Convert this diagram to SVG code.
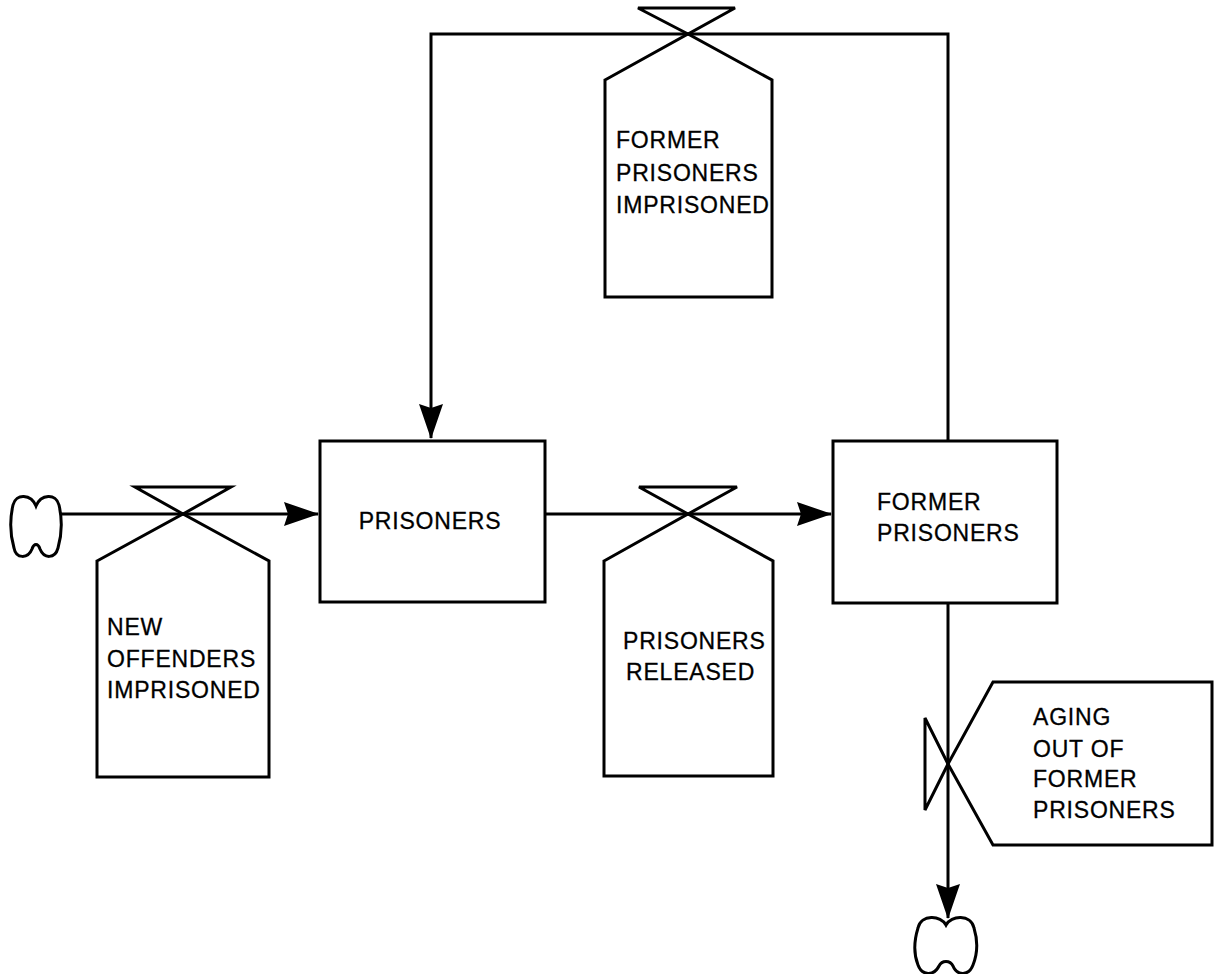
<svg xmlns="http://www.w3.org/2000/svg" width="1215" height="974" viewBox="0 0 1215 974">
  <style>
    .ln { fill: none; stroke: #000; stroke-width: 3; stroke-linejoin: miter; }
    .shape { fill: #fff; stroke: #000; stroke-width: 3; stroke-linejoin: miter; }
    .lbl { font-family: "Liberation Sans", Arial, sans-serif; font-size: 23px; fill: #000; stroke: #000; stroke-width: 0.3; letter-spacing: 0.8px; }
    .mid { text-anchor: middle; }
  </style>
  <defs>
    <marker id="arrow" markerUnits="userSpaceOnUse" markerWidth="40" markerHeight="30" viewBox="-38 -15 40 30" refX="0" refY="0" orient="auto">
      <path d="M1,0 L-34,-12 L-30,0 L-34,12 Z" fill="#000"/>
    </marker>
  </defs>
  <rect width="1215" height="974" fill="#fff"/>

  <!-- flow pipes -->
  <g id="connectors">
    <path class="ln" d="M60,514 L318,514" marker-end="url(#arrow)"/>
    <path class="ln" d="M545,514 L831,514" marker-end="url(#arrow)"/>
    <path class="ln" d="M948,441 L948,34 L431,34 L431,438" marker-end="url(#arrow)"/>
    <path class="ln" d="M948,603 L948,918" marker-end="url(#arrow)"/>
  </g>

  <!-- source cloud -->
  <g id="source">
    <path class="ln" d="M36,506 C41,494 56,493 59,505 C62,518 62,534 58,548 C55,559 44,559 40,549 C38,543 34,543 32,549 C28,559 16,559 14,548 C10,534 10,518 13,505 C16,493 31,494 36,506 Z"/>
  </g>

  <!-- sink cloud -->
  <g id="sink">
    <path class="ln" d="M946,925 C951,915 971,914 974,928 C978,941 977,955 973,965 C969,976 957,976 953,966 C950,960 942,960 939,966 C934,976 922,976 918,965 C914,955 914,941 918,928 C921,914 941,915 946,925 Z"/>
  </g>

  <!-- levels -->
  <g id="prisoners">
    <rect class="shape" x="320" y="441" width="225" height="161"/>
    <text class="lbl mid" x="430" y="529">PRISONERS</text>
  </g>

  <g id="former-prisoners">
    <rect class="shape" x="833" y="441" width="224" height="162"/>
    <text class="lbl" x="877" y="510">FORMER</text>
    <text class="lbl" x="877" y="541">PRISONERS</text>
  </g>

  <!-- rates -->
  <g id="new-offenders-imprisoned">
    <path class="ln" d="M97,561 L183,514 L269,561 L269,777 L97,777 Z"/>
    <path class="ln" d="M183,514 L135,487 L231,487 Z"/>
    <text class="lbl" x="107" y="635">NEW</text>
    <text class="lbl" x="107" y="667">OFFENDERS</text>
    <text class="lbl" x="107" y="698">IMPRISONED</text>
  </g>

  <g id="prisoners-released">
    <path class="ln" d="M604,561 L688,514 L773,561 L773,776 L604,776 Z"/>
    <path class="ln" d="M688,514 L639,487 L737,487 Z"/>
    <text class="lbl" x="623" y="649">PRISONERS</text>
    <text class="lbl" x="626" y="680">RELEASED</text>
  </g>

  <g id="former-prisoners-imprisoned">
    <path class="ln" d="M605,80 L688,34 L772,80 L772,297 L605,297 Z"/>
    <path class="ln" d="M688,34 L638,8 L735,8 Z"/>
    <text class="lbl" x="616" y="148">FORMER</text>
    <text class="lbl" x="616" y="181">PRISONERS</text>
    <text class="lbl" x="616" y="213">IMPRISONED</text>
  </g>

  <g id="aging-out">
    <path class="ln" d="M948,764 L993,682 L1212,682 L1212,845 L993,845 Z"/>
    <path class="ln" d="M948,764 L925,718 L925,810 Z"/>
    <text class="lbl" x="1033" y="725">AGING</text>
    <text class="lbl" x="1033" y="757">OUT OF</text>
    <text class="lbl" x="1033" y="787">FORMER</text>
    <text class="lbl" x="1033" y="818">PRISONERS</text>
  </g>
</svg>
